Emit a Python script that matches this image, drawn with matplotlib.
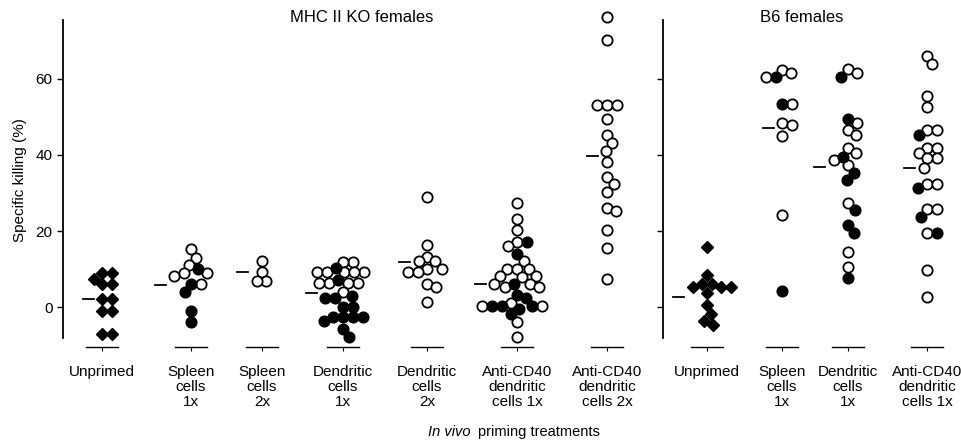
import numpy as np
import matplotlib
matplotlib.use("Agg")
import matplotlib.pyplot as plt

plt.rcParams["font.family"] = ["Liberation Sans", "DejaVu Sans"]

# === data: specific killing (%) per mouse ===
# MHC II KO females
ko_labels = ["Unprimed", "Spleen\ncells\n1x", "Spleen\ncells\n2x", "Dendritic\ncells\n1x",
             "Dendritic\ncells\n2x", "Anti-CD40\ndendritic\ncells 1x", "Anti-CD40\ndendritic\ncells 2x"]
ko_unprimed = [9, 9, 7.5, 6, 6, 2, 2, -1, -1, -7, -7]
ko_spleen1_open = [15.2, 13.0, 11.1, 9.0, 9.0, 8.2, 6.0]
ko_spleen1_filled = [9.9, 6.0, 4.0, -1.0, -4.0]
ko_spleen2_open = [12.1, 9.1, 6.8, 6.8]
ko_dc1_open = [11.9, 11.9, 9.1, 9.1, 9.1, 9.1, 9.1, 6.4, 6.4, 6.4, 6.4, 4.0]
ko_dc1_filled = [10.2, 7.1, 3.0, 2.5, 2.5, 0.1, 0.1, -2.7, -2.7, -2.7, -2.7, -3.6, -5.8, -7.8]
ko_dc2_open = [29.0, 16.2, 13.3, 12.0, 12.0, 10.0, 10.0, 9.2, 9.2, 6.2, 5.2, 1.3]
ko_cd40_1_open = [27.3, 23.2, 20.3, 17.0, 16.1, 12.2, 10.0, 10.0, 10.0, 8.3, 8.2, 7.8,
                  6.2, 6.2, 5.2, 5.2, 1.1, 0.3, 0.3, -3.9, -7.8]
ko_cd40_1_filled = [17.0, 14.0, 6.2, 3.2, 2.3, 0.3, 0.3, 0.3, -0.5, -1.9]
ko_cd40_2_open = [76.4, 70.3, 53.2, 53.2, 53.2, 49.5, 45.3, 43.1, 41.1, 38.1, 34.3, 32.4,
                  30.3, 26.0, 25.3, 20.4, 15.6, 7.4]
ko_means = [2.1, 5.8, 9.3, 3.7, 11.9, 6.0, 39.8]

# B6 females
b6_labels = ["Unprimed", "Spleen\ncells\n1x", "Dendritic\ncells\n1x", "Anti-CD40\ndendritic\ncells 1x"]
b6_unprimed = [15.7, 8.4, 6.2, 6.2, 5.2, 5.2, 5.2, 3.6, 0.5, -1.8, -3.6, -4.7]
b6_spleen_open = [62.4, 61.5, 60.4, 53.4, 48.3, 47.9, 45.0, 24.2]
b6_spleen_filled = [60.4, 53.4, 4.3]
b6_dc_open = [62.5, 61.5, 48.5, 46.6, 45.3, 41.8, 40.4, 38.7, 37.4, 27.4, 14.6, 10.6]
b6_dc_filled = [60.6, 49.5, 39.6, 35.3, 33.4, 25.5, 21.6, 19.6, 7.6]
b6_cd40_open = [66.1, 63.9, 55.5, 52.5, 46.6, 46.6, 41.8, 41.8, 40.4, 39.1, 39.1, 36.7,
                32.5, 32.5, 25.7, 25.7, 19.6, 9.7, 2.7]
b6_cd40_filled = [45.3, 31.4, 23.6, 19.6]
b6_means = [2.7, 47.0, 36.9, 36.7]

# groups: (diamonds, open circles, filled circles)
ko_groups = [(ko_unprimed, [], []), ([], ko_spleen1_open, ko_spleen1_filled),
             ([], ko_spleen2_open, []), ([], ko_dc1_open, ko_dc1_filled),
             ([], ko_dc2_open, []), ([], ko_cd40_1_open, ko_cd40_1_filled),
             ([], ko_cd40_2_open, [])]
b6_groups = [(b6_unprimed, [], []), ([], b6_spleen_open, b6_spleen_filled),
             ([], b6_dc_open, b6_dc_filled), ([], b6_cd40_open, b6_cd40_filled)]

# === layout (x in pixels of the figure) ===
W, H = 961, 446
ko_pos = [102, 191, 262, 343, 427, 517, 607]
b6_pos = [707, 782, 848, 927]
ylo, yhi = -10.5, 75.5
ax_bottom, ax_top = 347, 20
ppu = (ax_bottom - ax_top) / (yhi - ylo)  # pixels per % unit
d = 9.8  # marker spacing, px


def swarm(vals):
    # simple beeswarm in pixel space, returns x offsets in px
    placed = []
    offs = np.zeros(len(vals))
    order = np.argsort(vals)[::-1]
    for i in order:
        y = vals[i] * ppu
        cands = [0.0]
        for px_, py_ in placed:
            dy = y - py_
            if abs(dy) < d:
                dx = np.sqrt(d * d - dy * dy)
                cands += [px_ + dx, px_ - dx]
        ok = [c for c in cands
              if all((c - px_) ** 2 + (y - py_) ** 2 >= d * d - 1e-6 for px_, py_ in placed)]
        best = min(ok, key=lambda c: (round(abs(c), 3), -c))
        placed.append((best, y))
        offs[i] = best
    return offs


def draw_panel(ax, groups, positions, means, labels):
    for (dia, opn, fil), x0, m in zip(groups, positions, means):
        vals = np.array(dia + opn + fil, dtype=float)
        kinds = ["d"] * len(dia) + ["o"] * len(opn) + ["f"] * len(fil)
        offs = swarm(vals)
        for v, o, k in zip(vals, offs, kinds):
            if k == "d":
                ax.plot(x0 + o, v, marker="D", ms=6.5, color="black", clip_on=False)
            elif k == "o":
                ax.plot(x0 + o, v, marker="o", ms=7.4, mfc="white", mec="black",
                        mew=1.3, clip_on=False)
            else:
                ax.plot(x0 + o, v, marker="o", ms=7.4, mfc="black", mec="black",
                        mew=1.3, clip_on=False)
        # mean line just left of the swarm
        near = [o for v, o in zip(vals, offs) if abs(v - m) * ppu < d]
        left = min(near) if near else 0
        right_end = min(left - d / 2 - 3.5, -6)
        ax.plot([x0 + right_end - 11, x0 + right_end], [m, m], color="black", lw=1.3,
                clip_on=False)
        # baseline segment under each group
        ax.plot([x0 - 16, x0 + 16], [ylo, ylo], color="black", lw=1.0, clip_on=False)

    ax.set_ylim(ylo, yhi)
    ax.set_xticks(positions)
    ax.set_xticklabels(labels, fontsize=11, linespacing=1.1)
    ax.tick_params(axis="x", length=3, width=0.8, pad=10)
    ax.tick_params(axis="y", length=4.5, width=1.0, labelsize=11, pad=3)
    for s in ["top", "right", "bottom"]:
        ax.spines[s].set_visible(False)
    ax.spines["left"].set_bounds(-8.2, yhi)
    ax.spines["left"].set_linewidth(1.3)
    ax.set_yticks([0, 20, 40, 60])


fig = plt.figure(figsize=(W / 100, H / 100), dpi=100)
ax1 = fig.add_axes([63 / W, 1 - ax_bottom / H, (655 - 63) / W, (ax_bottom - ax_top) / H])
ax2 = fig.add_axes([663 / W, 1 - ax_bottom / H, (958 - 663) / W, (ax_bottom - ax_top) / H])
ax1.set_xlim(63, 655)
ax2.set_xlim(663, 958)

draw_panel(ax1, ko_groups, ko_pos, ko_means, ko_labels)
draw_panel(ax2, b6_groups, b6_pos, b6_means, b6_labels)
ax2.set_yticklabels([])

fig.text(362 / W, 1 - 17 / H, "MHC II KO females", ha="center", va="center", fontsize=12)
fig.text(802 / W, 1 - 17 / H, "B6 females", ha="center", va="center", fontsize=12)
fig.text(20 / W, 1 - 180 / H, "Specific killing (%)", rotation=90, ha="center", va="center",
         fontsize=11)
fig.text(470 / W, 1 - 432 / H, "In vivo", ha="right", va="center", fontsize=10.5, style="italic")
fig.text(478 / W, 1 - 432 / H, "priming treatments", ha="left", va="center", fontsize=10.5)

fig.savefig("out.png", dpi=100)
